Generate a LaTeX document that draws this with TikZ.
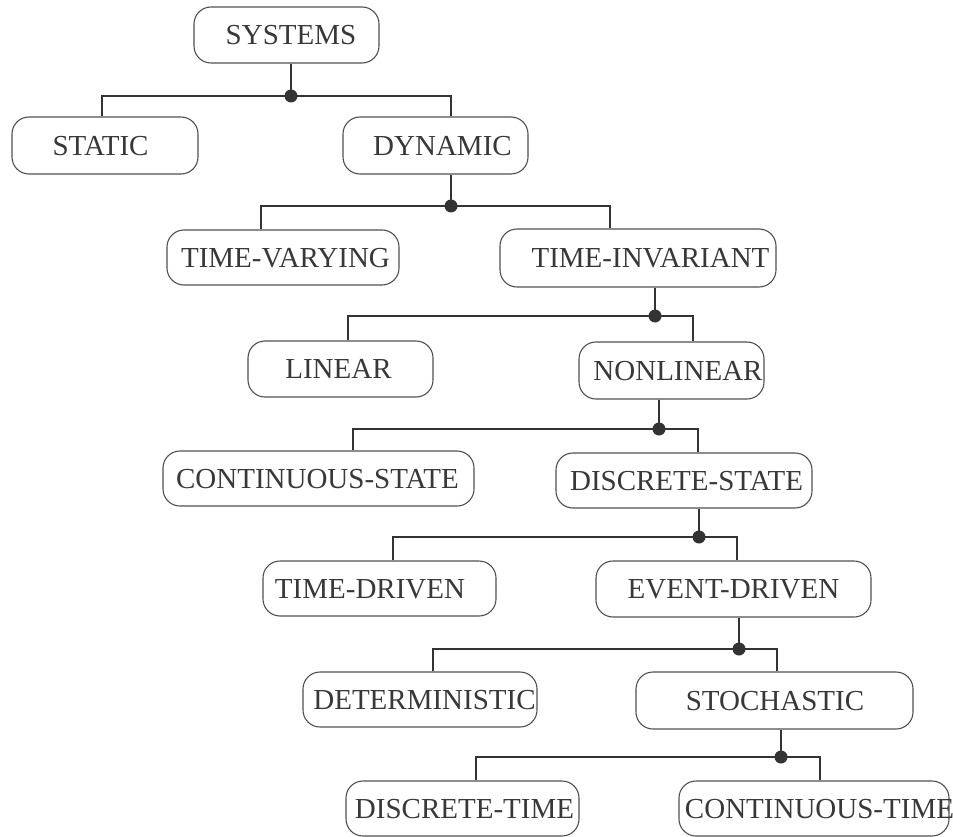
\documentclass[tikz,border=0pt]{standalone}
\usepackage{fontspec}
\setmainfont{Liberation Serif}
\usetikzlibrary{calc}

\definecolor{inkline}{HTML}{333333}
\definecolor{inkbox}{HTML}{505050}
\definecolor{inktext}{HTML}{383838}

% text of a box, moved sideways by #1 (in pt) from the box centre
\newcommand{\boxtext}[2]{\makebox[0pt]{\hspace*{#1pt}\hspace*{#1pt}#2}}

\begin{document}
\begin{tikzpicture}[
  x=1pt, y=-1pt,
  box/.style={draw=inkbox, line width=1.1pt, rounded corners=17pt,
    inner sep=0pt, text=inktext,
    font=\fontsize{29}{31}\selectfont,
    text height=19.2pt, text depth=0pt},
  wire/.style={draw=inkline, line width=1.4pt},
  joint/.style={fill=inkline, draw=none},
]
\useasboundingbox (0,0) rectangle (953,837);

% category boxes
\node[box, minimum width=185pt, minimum height=56pt] (sys)    at (286.5,35)   {\boxtext{4.5}{SYSTEMS}};
\node[box, minimum width=186pt, minimum height=57pt] (stat)   at (105,145.5)  {\boxtext{-4.5}{STATIC}};
\node[box, minimum width=185pt, minimum height=57pt] (dyn)    at (435.5,145.5){\boxtext{7}{DYNAMIC}};
\node[box, minimum width=232pt, minimum height=55pt] (tv)     at (283,257.5)  {\boxtext{2.5}{TIME-VARYING}};
\node[box, minimum width=276pt, minimum height=58pt] (ti)     at (638,258)    {\boxtext{12.5}{TIME-INVARIANT}};
\node[box, minimum width=185pt, minimum height=56pt] (lin)    at (340.5,369)  {\boxtext{-2}{LINEAR}};
\node[box, minimum width=185pt, minimum height=57pt] (nonlin) at (671.5,370.5){\boxtext{6.5}{NONLINEAR}};
\node[box, minimum width=311pt, minimum height=55pt] (cs)     at (318.5,478.5){\boxtext{-1}{CONTINUOUS-STATE}};
\node[box, minimum width=256pt, minimum height=55pt] (ds)     at (684,480.5)  {\boxtext{2.5}{DISCRETE-STATE}};
\node[box, minimum width=233pt, minimum height=55pt] (td)     at (379.5,588.5){\boxtext{-9.5}{TIME-DRIVEN}};
\node[box, minimum width=275pt, minimum height=56pt] (ed)     at (733.5,589)  {\boxtext{0}{EVENT-DRIVEN}};
\node[box, minimum width=234pt, minimum height=55pt] (det)    at (420,699.5)  {\boxtext{4.5}{DETERMINISTIC}};
\node[box, minimum width=277pt, minimum height=57pt] (sto)    at (774.5,700.5){\boxtext{0.5}{STOCHASTIC}};
\node[box, minimum width=233pt, minimum height=55pt] (dt)     at (462.5,808.5){\boxtext{2}{DISCRETE-TIME}};
\node[box, minimum width=270pt, minimum height=55pt] (ct)     at (814,808.5)  {\boxtext{5.5}{CONTINUOUS-TIME}};

% branching points
\coordinate (j1) at (291,96);
\coordinate (j2) at (451,206);
\coordinate (j3) at (655,316);
\coordinate (j4) at (659,429);
\coordinate (j5) at (699,537);
\coordinate (j6) at (739,649);
\coordinate (j7) at (781,757);

% trunks and branches
\draw[wire] (sys.south -| j1) -- (j1);
\draw[wire] ([xshift=-3pt]stat.north) |- (j1) -| ([xshift=15.5pt]dyn.north);

\draw[wire] (dyn.south -| j2) -- (j2);
\draw[wire] ([xshift=-22pt]tv.north) |- (j2) -| ([xshift=-28pt]ti.north);

\draw[wire] (ti.south -| j3) -- (j3);
\draw[wire] ([xshift=7.5pt]lin.north) |- (j3) -| ([xshift=21.5pt]nonlin.north);

\draw[wire] (nonlin.south -| j4) -- (j4);
\draw[wire] ([xshift=34.5pt]cs.north) |- (j4) -| ([xshift=14pt]ds.north);

\draw[wire] (ds.south -| j5) -- (j5);
\draw[wire] ([xshift=13.5pt]td.north) |- (j5) -| ([xshift=3.5pt]ed.north);

\draw[wire] (ed.south -| j6) -- (j6);
\draw[wire] ([xshift=13pt]det.north) |- (j6) -| ([xshift=2.5pt]sto.north);

\draw[wire] (sto.south -| j7) -- (j7);
\draw[wire] ([xshift=13.5pt]dt.north) |- (j7) -| ([xshift=6pt]ct.north);

% junction dots
\foreach \j in {j1,j2,j3,j4,j5,j6,j7}
  \fill[joint] (\j) circle (6.5pt);
\end{tikzpicture}
\end{document}
